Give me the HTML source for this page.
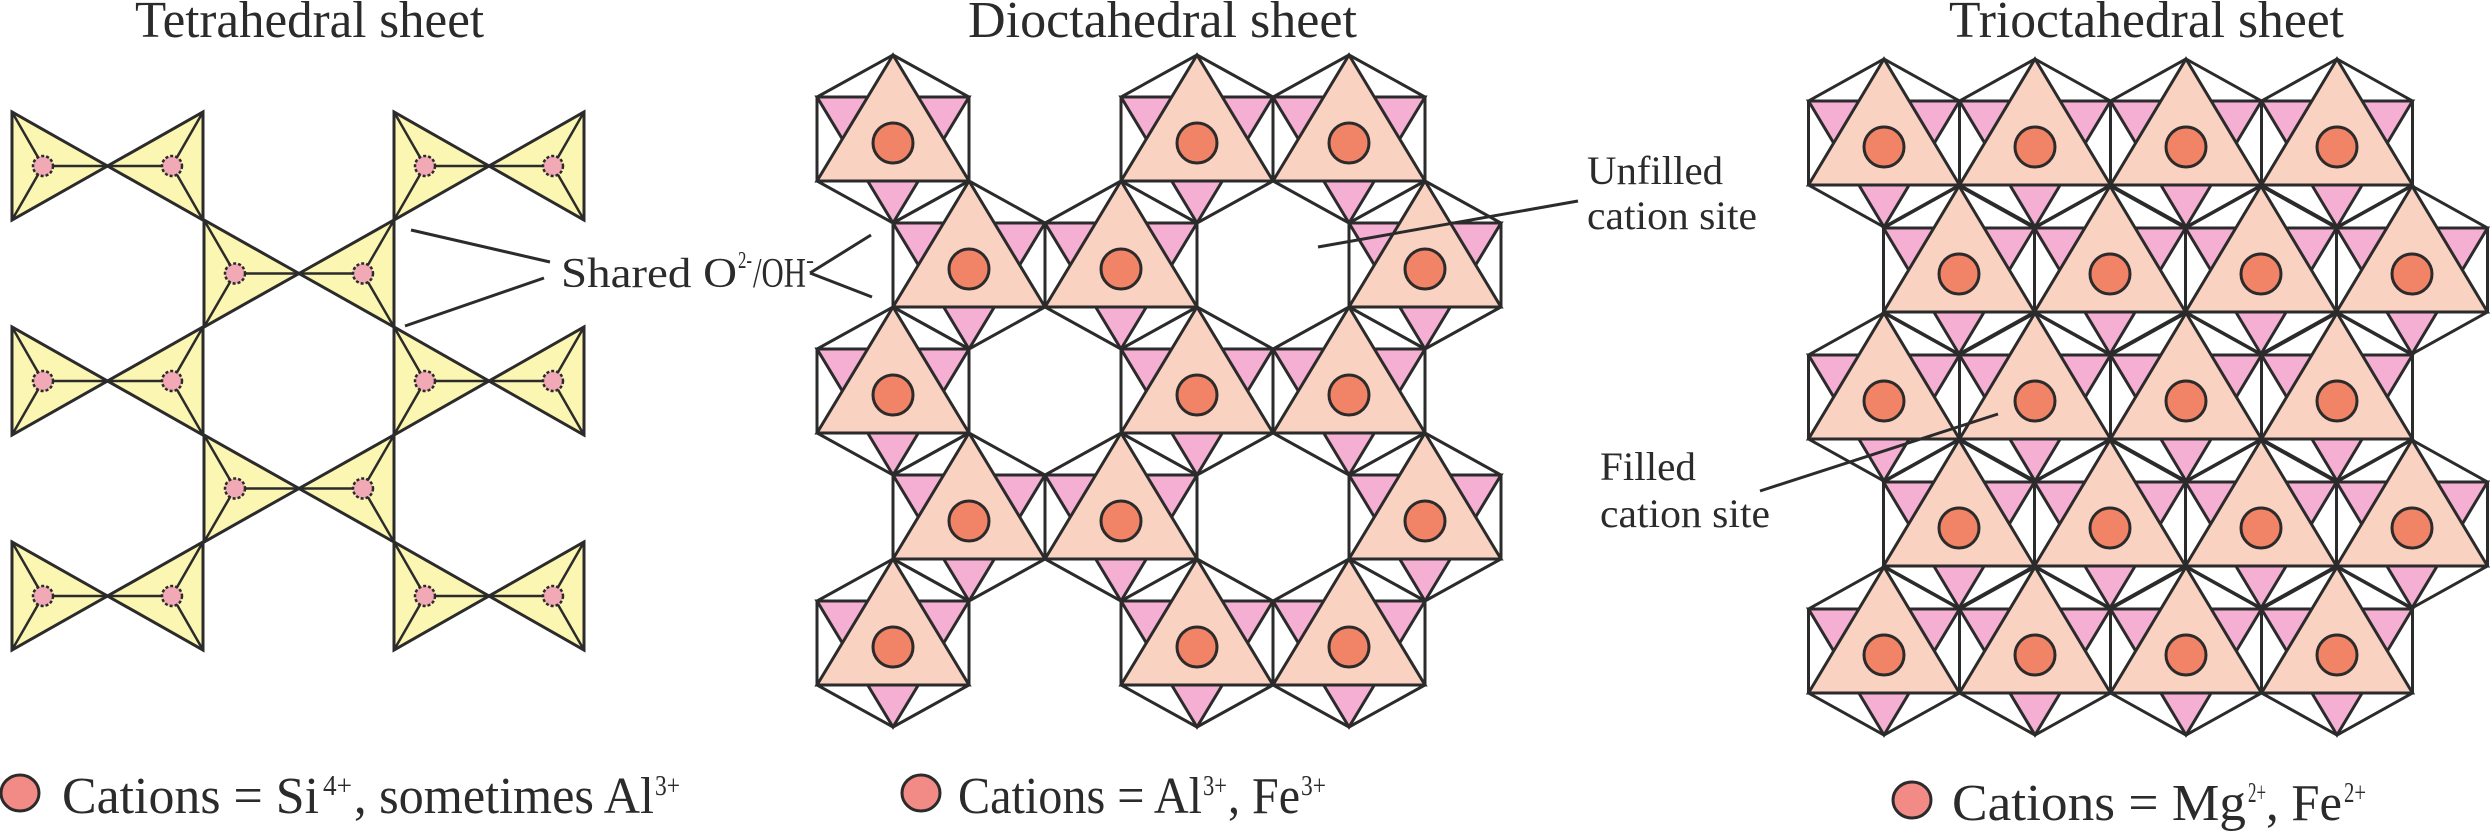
<!DOCTYPE html>
<html><head><meta charset="utf-8">
<style>
html,body{margin:0;padding:0;background:#fff;}
svg{display:block;}
text{font-family:"Liberation Serif",serif;fill:#2b2b2b;}
</style></head>
<body>
<svg id="s" xmlns="http://www.w3.org/2000/svg" width="2491" height="833" viewBox="0 0 2491 833">
<g id="shapes"></g>
<!-- titles -->
<text x="135" y="37" font-size="52" textLength="349" lengthAdjust="spacingAndGlyphs">Tetrahedral sheet</text>
<text x="968" y="37" font-size="52" textLength="389" lengthAdjust="spacingAndGlyphs">Dioctahedral sheet</text>
<text x="1949" y="37" font-size="52" textLength="395" lengthAdjust="spacingAndGlyphs">Trioctahedral sheet</text>
<!-- shared label -->
<line x1="411" y1="230" x2="550" y2="262" stroke="#2b2b2b" stroke-width="3"/>
<line x1="405" y1="326" x2="544" y2="278" stroke="#2b2b2b" stroke-width="3"/>
<line x1="810" y1="273" x2="871" y2="235" stroke="#2b2b2b" stroke-width="3"/>
<line x1="810" y1="273" x2="872" y2="297" stroke="#2b2b2b" stroke-width="3"/>
<text x="561" y="287" font-size="42" textLength="176" lengthAdjust="spacingAndGlyphs">Shared O</text>
<text x="738" y="268" font-size="24" textLength="14" lengthAdjust="spacingAndGlyphs">2-</text>
<text x="753" y="287" font-size="42" textLength="53" lengthAdjust="spacingAndGlyphs">/OH</text>
<text x="806" y="268" font-size="24">-</text>
<!-- unfilled -->
<line x1="1578" y1="201" x2="1318" y2="247" stroke="#2b2b2b" stroke-width="3"/>
<text x="1587" y="184" font-size="40" textLength="136" lengthAdjust="spacingAndGlyphs">Unfilled</text>
<text x="1587" y="229" font-size="40" textLength="170" lengthAdjust="spacingAndGlyphs">cation site</text>
<!-- filled -->
<line x1="1760" y1="491" x2="1998" y2="414" stroke="#2b2b2b" stroke-width="3"/>
<text x="1600" y="480" font-size="40" textLength="96" lengthAdjust="spacingAndGlyphs">Filled</text>
<text x="1600" y="527" font-size="40" textLength="170" lengthAdjust="spacingAndGlyphs">cation site</text>
<!-- legends -->
<ellipse cx="20" cy="793" rx="19" ry="18" fill="#f28b86" stroke="#2b2b2b" stroke-width="3"/>
<text x="62" y="813" font-size="52" textLength="257" lengthAdjust="spacingAndGlyphs">Cations = Si</text>
<text x="323" y="795" font-size="28" textLength="29" lengthAdjust="spacingAndGlyphs">4+</text>
<text x="354" y="813" font-size="52" textLength="300" lengthAdjust="spacingAndGlyphs">, sometimes Al</text>
<text x="655" y="795" font-size="28" textLength="25" lengthAdjust="spacingAndGlyphs">3+</text>

<ellipse cx="921" cy="793" rx="19" ry="18" fill="#f28b86" stroke="#2b2b2b" stroke-width="3"/>
<text x="958" y="813" font-size="52" textLength="244" lengthAdjust="spacingAndGlyphs">Cations = Al</text>
<text x="1203" y="795" font-size="28" textLength="24" lengthAdjust="spacingAndGlyphs">3+</text>
<text x="1228" y="813" font-size="52" textLength="72" lengthAdjust="spacingAndGlyphs">, Fe</text>
<text x="1301" y="795" font-size="28" textLength="25" lengthAdjust="spacingAndGlyphs">3+</text>

<ellipse cx="1912" cy="800" rx="19" ry="18" fill="#f28b86" stroke="#2b2b2b" stroke-width="3"/>
<text x="1952" y="820" font-size="52" textLength="294" lengthAdjust="spacingAndGlyphs">Cations = Mg</text>
<text x="2248" y="802" font-size="28" textLength="18" lengthAdjust="spacingAndGlyphs">2+</text>
<text x="2266" y="820" font-size="52" textLength="76" lengthAdjust="spacingAndGlyphs">, Fe</text>
<text x="2344" y="802" font-size="28" textLength="22" lengthAdjust="spacingAndGlyphs">2+</text>
</svg>
<script>
(function(){
var NS="http://www.w3.org/2000/svg",g=document.getElementById("shapes");
var ST="#2b2b2b";
function el(n,a){var e=document.createElementNS(NS,n);for(var k in a)e.setAttribute(k,a[k]);g.appendChild(e);return e;}
function poly(pts,fill,w){el("polygon",{points:pts.map(function(p){return p.join(",")}).join(" "),fill:fill,stroke:ST,"stroke-width":w||3,"stroke-linejoin":"miter"});}
function line(a,b,w){el("line",{x1:a[0],y1:a[1],x2:b[0],y2:b[1],stroke:ST,"stroke-width":w||3});}
// tetrahedral
var rows=[[112,220],[220,327],[327,435],[435,542],[542,650]];
rows.forEach(function(r,i){
  var pairs=(i%2==0)?[[12,203],[394,584]]:[[204,394]];
  pairs.forEach(function(p){
    var L=p[0],R=p[1],T=r[0],B=r[1],M=(L+R)/2,cy=(T+B)/2;
    [[L,L+31],[R,R-31]].forEach(function(q){
      var X=q[0],cx=q[1];
      poly([[X,T],[X,B],[M,cy]],"#fcf6b3");
      line([cx,cy],[X,T],2.5);line([cx,cy],[X,B],2.5);line([cx,cy],[M,cy],2.5);
      el("circle",{cx:cx,cy:cy,r:10,fill:"#f1a9b6",stroke:ST,"stroke-width":2.5,"stroke-dasharray":"3,2"});
    });
  });
});
// octahedra
function octa(cx,cy,a,R){
  var top=[cx,cy-R],ur=[cx+a,cy-R/2],lr=[cx+a,cy+R/2],bot=[cx,cy+R],ll=[cx-a,cy+R/2],ul=[cx-a,cy-R/2];
  poly([top,ur,lr,bot,ll,ul],"#ffffff");
  poly([ul,ur,bot],"#f4afd3");
  poly([top,lr,ll],"#fad2c2");
  el("circle",{cx:cx,cy:cy+4,r:20,fill:"#f18366",stroke:ST,"stroke-width":3});
}
var dy=[139,265,391,517,643];
dy.forEach(function(y,i){
  var xs=(i%2==0)?[893,1197,1349]:[969,1121,1425];
  xs.forEach(function(x){octa(x,y,76,84);});
});
var ty=[143,270,397,524,651];
ty.forEach(function(y,i){
  var b=(i%2==0)?1884:1959;
  for(var k=0;k<4;k++)octa(b+151*k,y,75.5,84);
});
})();
</script>
</body></html>
